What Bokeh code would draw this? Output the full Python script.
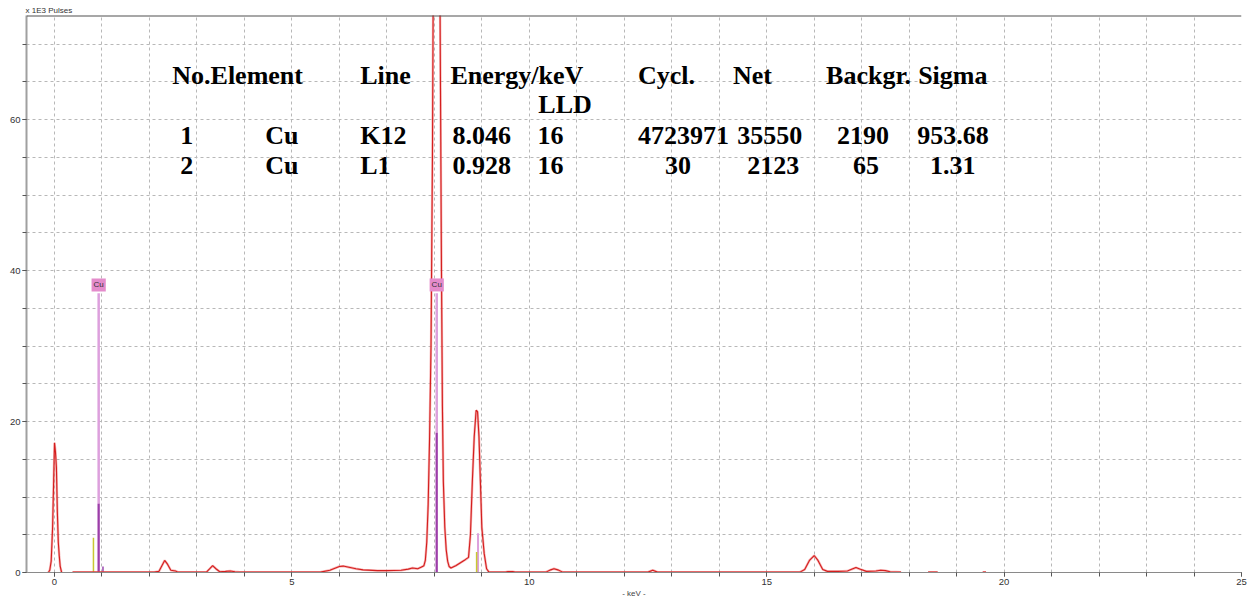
import math
from bokeh.plotting import figure
from bokeh.models import FixedTicker, Label, Span
from bokeh.core.properties import value
from bokeh.embed import file_html
from bokeh.resources import INLINE

NaN = float("nan")

# ---------------- data ----------------
# spectrum trace, keV vs x1E3 pulses (NaN = gap in the trace)
spec_kev = [
    -0.13, -0.10, -0.07, -0.04, -0.02, 0.00, 0.02, 0.04, 0.06, 0.08, 0.10, 0.12, 0.15, NaN,
    0.38, 1.00, 2.10, 2.20, 2.27, 2.32, 2.38, 2.45, 2.55, 2.60,
    3.20, 3.27, 3.33, 3.40, 3.48, 3.60, 3.70, 3.80, 3.90,
    5.60, 5.80, 6.00, 6.08, 6.20, 6.35, 6.50, 6.80, 7.00, 7.30, 7.45, 7.54, 7.65, 7.72,
    7.78, 7.81, 7.84, 7.87, 7.90, 7.93, 7.96, 8.00, 8.04, 8.08, 8.12, 8.15, 8.17,
    8.19, 8.22, 8.25, 8.28, 8.31, 8.35, 8.45, 8.55, 8.65, 8.72,
    8.76, 8.80, 8.84, 8.88, 8.91, 8.94, 8.97, 9.00, 9.05, 9.10, 9.15,
    9.50, 9.55, 9.65, 9.70, 10.35, 10.45, 10.52, 10.60, 10.70,
    12.50, 12.60, 12.70, 15.70, 15.80, 15.90, 16.00, 16.08, 16.18, 16.28,
    16.50, 16.70, 16.80, 16.88, 16.96, 17.10, 17.30, 17.40, 17.50, 17.60, 17.83, NaN,
    18.40, 18.60, NaN, 19.55, 19.62,
]
spec_val = [
    0.0, 0.3, 1.5, 6.0, 11.6, 17.2, 16.0, 13.9, 8.0, 4.0, 2.2, 0.8, 0.0, NaN,
    0.05, 0.05, 0.05, 0.15, 1.0, 1.6, 1.1, 0.3, 0.2, 0.05,
    0.05, 0.5, 0.9, 0.5, 0.1, 0.15, 0.2, 0.1, 0.05,
    0.05, 0.3, 0.8, 0.85, 0.7, 0.5, 0.35, 0.25, 0.25, 0.3, 0.45, 0.6, 0.5, 0.7,
    0.9, 1.6, 4.0, 9.0, 18.0, 30.0, 55.0, 110.0, 130.0, 110.0, 75.0, 40.0, 22.0,
    12.0, 6.0, 3.0, 1.5, 0.8, 0.6, 0.9, 1.3, 1.7, 2.0,
    5.0, 12.0, 18.0, 21.5, 21.3, 18.0, 12.0, 6.0, 2.5, 0.5, 0.05,
    0.05, 0.12, 0.12, 0.05, 0.05, 0.35, 0.5, 0.35, 0.05,
    0.05, 0.3, 0.05, 0.05, 0.4, 1.6, 2.25, 1.6, 0.4, 0.15,
    0.15, 0.2, 0.45, 0.65, 0.45, 0.15, 0.2, 0.3, 0.25, 0.1, 0.05, NaN,
    0.05, 0.05, NaN, 0.05, 0.05,
]

# element line markers
mark_kev = [0.93, 0.93, 0.82, 1.02, 8.05, 8.05, 8.92, 8.89]
mark_top = [37.0, 9.1, 4.6, 0.8, 37.0, 18.5, 5.2, 2.7]
cu_label_kev = [0.93, 8.05]
cu_label_text = ["Cu", "Cu"]

# result table
tbl_headers = ["No.Element", "Line", "Energy/keV", "Cycl.", "Net", "Backgr.", "Sigma"]
tbl_header2 = ["LLD"]
tbl_no = ["1", "2"]
tbl_element = ["Cu", "Cu"]
tbl_line = ["K12", "L1"]
tbl_energy = ["8.046", "0.928"]
tbl_lld = ["16", "16"]
tbl_cycl = ["4723971", "30"]
tbl_net = ["35550", "2123"]
tbl_backgr = ["2190", "65"]
tbl_sigma = ["953.68", "1.31"]

x_major = [0, 5, 10, 15, 20, 25]
x_minor = list(range(0, 26))
y_major = [0, 20, 40, 60]
y_minor = list(range(0, 75, 5))
y_unit_text = "x 1E3 Pulses"

# ---------------- layout / style ----------------
mark_colors = ["#dda0dd", "#9a3fa8", "#c8c832", "#b070c0", "#dda0dd", "#9a3fa8", "#dda0dd", "#c8c832"]
mark_widths = [2.5, 2, 1.5, 2, 2.5, 2, 2, 1.5]

hdr_x = [2.48, 6.44, 8.34, 12.29, 14.29, 16.25, 18.19]
hdr_y = 65.8
hdr2_x = [10.19]
hdr2_y = 61.95
row_y = [57.85, 53.95]
col_x = {
    "no": [2.65, 2.65], "el": [4.44, 4.44], "line": [6.44, 6.44], "en": [8.38, 8.38],
    "lld": [10.17, 10.17], "cycl": [12.29, 12.86], "net": [14.38, 14.59],
    "bg": [16.48, 16.82], "sig": [18.17, 18.44],
}

p = figure(width=1247, height=600, output_backend="svg", toolbar_location=None,
           x_range=(-0.59, 25.0), y_range=(0, 73.8),
           min_border_left=26, min_border_right=6, min_border_top=15, min_border_bottom=28)
p.outline_line_color = None
p.background_fill_color = "white"

# y unit caption above the frame (as title)
p.title.text = y_unit_text
p.title.align = "left"
p.title.text_font = "Liberation Sans"
p.title.text_font_size = "8px"
p.title.text_font_style = "normal"
p.title.text_color = "#333333"
p.title.standoff = 2
p.title.offset = -1

grid_col = "#b8b8b8"
for g, tk in ((p.xgrid, x_minor), (p.ygrid, y_minor)):
    g.ticker = FixedTicker(ticks=tk)
    g.grid_line_color = grid_col
    g.grid_line_dash = "3 3"
    g.grid_line_width = 1

p.xaxis.ticker = FixedTicker(ticks=x_major, minor_ticks=x_minor)
p.yaxis.ticker = FixedTicker(ticks=y_major, minor_ticks=y_minor)
for ax in (p.xaxis, p.yaxis):
    ax.major_tick_in = 0
    ax.major_tick_out = 4
    ax.minor_tick_in = 0
    ax.minor_tick_out = 4
    ax.major_tick_line_color = "#555555"
    ax.minor_tick_line_color = "#555555"
    ax.major_label_text_font = "Liberation Sans"
    ax.major_label_text_font_size = "9.5px"
    ax.major_label_text_color = "#333333"
    ax.major_label_standoff = 2
p.yaxis.axis_line_color = "#a0a0a0"
p.yaxis.axis_line_width = 2
p.xaxis.axis_line_color = "#8a8a8a"
p.xaxis.axis_line_width = 1
p.xaxis.axis_label = "- keV -"
p.xaxis.axis_label_text_font = "Liberation Sans"
p.xaxis.axis_label_text_font_size = "8px"
p.xaxis.axis_label_text_font_style = "normal"
p.xaxis.axis_label_text_color = "#444444"
p.xaxis.axis_label_standoff = 1

# top border of the frame
p.add_layout(Span(location=73.8, dimension="width", line_color="#505050", line_width=2))

# marker lines
p.segment(x0=mark_kev, y0=[0] * len(mark_kev), x1=mark_kev, y1=mark_top,
          line_color=mark_colors, line_width=mark_widths)

# spectrum
p.line(spec_kev, spec_val, line_color="#f08080", line_width=2.4, line_alpha=0.6)
p.line(spec_kev, spec_val, line_color="#d41e1e", line_width=1.1)

# Cu labels
for kx, t in zip(cu_label_kev, cu_label_text):
    p.add_layout(Label(x=kx, y=38.1, text=t, text_align="center", text_baseline="middle",
                       text_font="Liberation Sans", text_font_size="8px", text_color="#333333",
                       background_fill_color="#e48bcb", padding=2))

# table
tkw = dict(text_font=value("Liberation Serif"), text_font_style="bold", text_font_size="26px",
           text_color="#000000", text_align="left", text_baseline="alphabetic")
p.text(x=hdr_x, y=[hdr_y] * len(hdr_x), text=tbl_headers, **tkw)
p.text(x=hdr2_x, y=[hdr2_y], text=tbl_header2, **tkw)
for key, col in (("no", tbl_no), ("el", tbl_element), ("line", tbl_line), ("en", tbl_energy),
                 ("lld", tbl_lld), ("cycl", tbl_cycl), ("net", tbl_net), ("bg", tbl_backgr),
                 ("sig", tbl_sigma)):
    p.text(x=col_x[key], y=row_y, text=col, **tkw)

open("out.html", "w").write(file_html(p, INLINE))
